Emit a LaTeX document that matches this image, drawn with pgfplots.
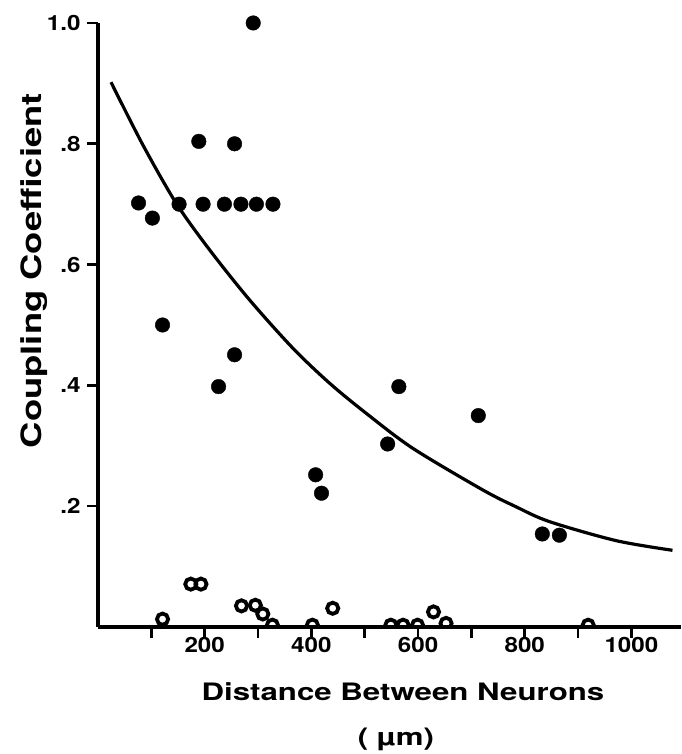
\documentclass[border=0pt]{standalone}
\usepackage{fontspec}
\setmainfont{TeX Gyre Heros}
\newfontfamily\labfont[FakeStretch=1.3]{TeX Gyre Heros}
\newfontfamily\tickfont[FakeStretch=1.15]{TeX Gyre Heros}
\usepackage{pgfplots}
\pgfplotsset{compat=1.18}
\begin{document}
\begin{tikzpicture}
\path[use as bounding box] (0pt,0pt) rectangle (681pt,754pt);
% open circles (clipped at the x axis)
\begin{axis}[at={(98pt,127pt)}, anchor=south west, scale only axis,
  width=583pt, height=604pt, xmin=0, xmax=1093, ymin=0, ymax=1,
  hide axis, clip marker paths=true]
\addplot[only marks, mark=o, mark size=5.6pt, mark options={line width=3.8pt, black}] coordinates {
(121,0.013) (174,0.071) (193,0.071) (269,0.035) (295,0.036) (309,0.0215)
(327,0.003) (402,0.003) (440,0.031) (549,0.003) (572,0.003) (599,0.003)
(629,0.025) (652.5,0.006) (919,0.003)};
\end{axis}
\begin{axis}[at={(98pt,127pt)}, anchor=south west, scale only axis,
  width=583pt, height=604pt, xmin=0, xmax=1093, ymin=0, ymax=1,
  axis x line*=bottom, axis y line*=left,
  axis line style={line width=3.4pt, black},
  tick align=outside, major tick length=11pt,
  every tick/.style={black, line width=2.6pt},
  xtick={100,200,...,1000}, xticklabels={,200,,400,,600,,800,,1000},
  ytick={0.2,0.4,0.6,0.8,1.0}, yticklabels={.2,.4,.6,.8,1.0},
  tick label style={font=\tickfont\bfseries\fontsize{21}{21}\selectfont},
  xticklabel style={yshift=4pt},
  yticklabel style={xshift=-3pt},
  xlabel={\bfseries Distance Between Neurons},
  xlabel style={font=\labfont\fontsize{24}{24}\selectfont, at={(axis description cs:0.523,-0.1209)}, anchor=base},
  ylabel={\bfseries Coupling Coefficient},
  ylabel style={font=\labfont\fontsize{28}{28}\selectfont, at={(axis description cs:-0.0966,0.59)}, anchor=base},
  clip=false]
\addplot[black, line width=3.2pt, smooth, no marks] coordinates {
(24.4,0.902) (83.6,0.799) (146.3,0.702) (208.7,0.625) (283.7,0.542) (364.9,0.462)
(433.7,0.404) (502.5,0.354) (589.9,0.296) (721.2,0.227) (783.8,0.199)
(846.2,0.1745) (971.2,0.143) (1077,0.127)};
\addplot[only marks, mark=*, mark size=7.3pt, black] coordinates {
(291,1.0) (189,0.804) (256,0.80) (76,0.702) (102,0.677) (152,0.70) (197,0.70)
(237,0.70) (268,0.70) (297,0.70) (328,0.70) (121,0.50) (226,0.398) (256,0.4507)
(408,0.252) (419,0.2215) (564,0.398) (543,0.303) (713,0.350) (833,0.154) (865,0.152)};
\node[font=\labfont\bfseries\fontsize{24}{24}\selectfont, anchor=base] at (axis description cs:0.511,-0.1954) {( µm)};
\end{axis}
\end{tikzpicture}
\end{document}
